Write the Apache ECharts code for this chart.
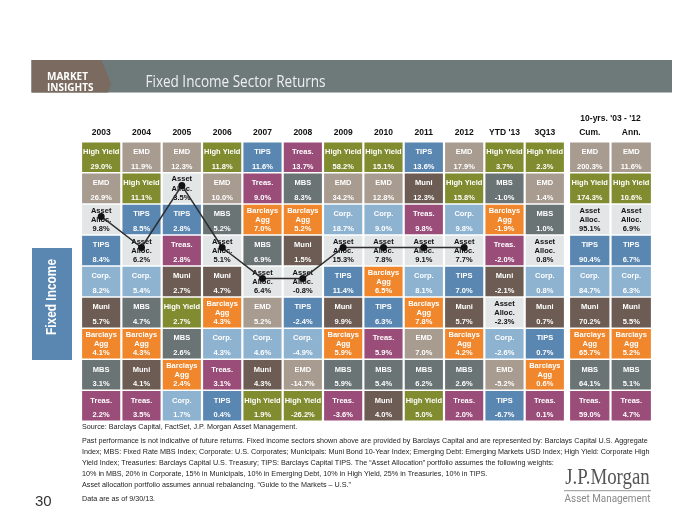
<!DOCTYPE html>
<html><head><meta charset="utf-8">
<script src="https://cdn.jsdelivr.net/npm/echarts@6/dist/echarts.min.js"></script>
<style>html,body{margin:0;padding:0;background:#fff}#c{width:700px;height:525px}</style>
</head><body><div id="c"></div>
<script>
// ---------- DATA ----------
const periods = ['2003','2004','2005','2006','2007','2008','2009','2010','2011','2012',"YTD '13",'3Q13'];
const longPeriods = ['Cum.','Ann.'];
const longPeriodTitle = "10-yrs. '03 - '12";
const ranks = ['1','2','3','4','5','6','7','8','9'];

const sectorOrder = [
  ['High Yield','EMD','Asset Alloc.','TIPS','Corp.','Muni','Barclays Agg','MBS','Treas.'],
  ['EMD','High Yield','TIPS','Asset Alloc.','Corp.','MBS','Barclays Agg','Muni','Treas.'],
  ['EMD','Asset Alloc.','TIPS','Treas.','Muni','High Yield','MBS','Barclays Agg','Corp.'],
  ['High Yield','EMD','MBS','Asset Alloc.','Muni','Barclays Agg','Corp.','Treas.','TIPS'],
  ['TIPS','Treas.','Barclays Agg','MBS','Asset Alloc.','EMD','Corp.','Muni','High Yield'],
  ['Treas.','MBS','Barclays Agg','Muni','Asset Alloc.','TIPS','Corp.','EMD','High Yield'],
  ['High Yield','EMD','Corp.','Asset Alloc.','TIPS','Muni','Barclays Agg','MBS','Treas.'],
  ['High Yield','EMD','Corp.','Asset Alloc.','Barclays Agg','TIPS','Treas.','MBS','Muni'],
  ['TIPS','Muni','Treas.','Asset Alloc.','Corp.','Barclays Agg','EMD','MBS','High Yield'],
  ['EMD','High Yield','Corp.','Asset Alloc.','TIPS','Muni','Barclays Agg','MBS','Treas.'],
  ['High Yield','MBS','Barclays Agg','Treas.','Muni','Asset Alloc.','Corp.','EMD','TIPS'],
  ['High Yield','EMD','MBS','Asset Alloc.','Corp.','Muni','TIPS','Barclays Agg','Treas.'],
  ['EMD','High Yield','Asset Alloc.','TIPS','Corp.','Muni','Barclays Agg','MBS','Treas.'],
  ['EMD','High Yield','Asset Alloc.','TIPS','Corp.','Muni','Barclays Agg','MBS','Treas.']
];
const returnValues = [
  [29.0, 26.9, 9.8, 8.4, 8.2, 5.7, 4.1, 3.1, 2.2],
  [11.9, 11.1, 8.5, 6.2, 5.4, 4.7, 4.3, 4.1, 3.5],
  [12.3, 3.5, 2.8, 2.8, 2.7, 2.7, 2.6, 2.4, 1.7],
  [11.8, 10.0, 5.2, 5.1, 4.7, 4.3, 4.3, 3.1, 0.4],
  [11.6, 9.0, 7.0, 6.9, 6.4, 5.2, 4.6, 4.3, 1.9],
  [13.7, 8.3, 5.2, 1.5, -0.8, -2.4, -4.9, -14.7, -26.2],
  [58.2, 34.2, 18.7, 15.3, 11.4, 9.9, 5.9, 5.9, -3.6],
  [15.1, 12.8, 9.0, 7.8, 6.5, 6.3, 5.9, 5.4, 4.0],
  [13.6, 12.3, 9.8, 9.1, 8.1, 7.8, 7.0, 6.2, 5.0],
  [17.9, 15.8, 9.8, 7.7, 7.0, 5.7, 4.2, 2.6, 2.0],
  [3.7, -1.0, -1.9, -2.0, -2.1, -2.3, -2.6, -5.2, -6.7],
  [2.3, 1.4, 1.0, 0.8, 0.8, 0.7, 0.7, 0.6, 0.1],
  [200.3, 174.3, 95.1, 90.4, 84.7, 70.2, 65.7, 64.1, 59.0],
  [11.6, 10.6, 6.9, 6.7, 6.3, 5.5, 5.2, 5.1, 4.7]
];
const footnotes = [
  'Past performance is not indicative of future returns. Fixed income sectors shown above are provided by Barclays Capital and are represented by: Barclays Capital U.S. Aggregate',
  'Index; MBS: Fixed Rate MBS Index; Corporate: U.S. Corporates; Municipals: Muni Bond 10-Year Index; Emerging Debt: Emerging Markets USD Index; High Yield: Corporate High',
  'Yield Index; Treasuries: Barclays Capital U.S. Treasury; TIPS: Barclays Capital TIPS. The \u201cAsset Allocation\u201d portfolio assumes the following weights:',
  '10% in MBS, 20% in Corporate, 15% in Municipals, 10% in Emerging Debt, 10% in High Yield, 25% in Treasuries, 10% in TIPS.',
  'Asset allocation portfolio assumes annual rebalancing. \u201cGuide to the Markets \u2013 U.S.\u201d'
];

// ---------- STYLE ----------
const sectorStyle = {
  'High Yield':   {fill:'#808c2f', text:'#ffffff', label:['High Yield']},
  'EMD':          {fill:'#a89b90', text:'#ffffff', label:['EMD']},
  'Asset Alloc.': {fill:'#e3e6e7', text:'#111111', label:['Asset','Alloc.']},
  'TIPS':         {fill:'#5a87b2', text:'#ffffff', label:['TIPS']},
  'Corp.':        {fill:'#8db3d1', text:'#ffffff', label:['Corp.']},
  'Muni':         {fill:'#6c5c53', text:'#ffffff', label:['Muni']},
  'Barclays Agg': {fill:'#f0872c', text:'#ffffff', label:['Barclays','Agg']},
  'MBS':          {fill:'#6a7475', text:'#ffffff', label:['MBS']},
  'Treas.':       {fill:'#9b4d7a', text:'#ffffff', label:['Treas.']}
};
const FONT = '"Liberation Sans", Arial, sans-serif';

function buildCells(colStart, colEnd) {
  const data = [], info = [];
  for (let c = colStart; c < colEnd; c++) {
    sectorOrder[c].forEach((s, r) => {
      data.push([c - colStart, r, returnValues[c][r]]);
      info.push(s);
    });
  }
  return {data, info};
}

function makeRenderer(info) {
  return function (params, api) {
    const col = api.value(0), row = api.value(1), v = api.value(2);
    const ctr = api.coord([col, row]);
    const sz = api.size([1, 1]);
    const w = sz[0] - 2.2, h = sz[1] - 1.5;
    const x = ctr[0] - w / 2, y = ctr[1] - h / 2;
    const st = sectorStyle[info[params.dataIndex]];
    const font = 'bold 7.5px ' + FONT;
    const children = [{type:'rect', shape:{x, y, width:w, height:h}, style:{fill:st.fill}}];
    const lines = st.label;
    const ys = lines.length === 1 ? [y + 9.5] : [y + 5.8, y + 15.2];
    lines.forEach((t, i) => children.push({
      type:'text', style:{text:t, x:ctr[0], y:ys[i], align:'center', verticalAlign:'middle', fill:st.text, font}
    }));
    children.push({type:'text', style:{text:v.toFixed(1) + '%', x:ctr[0], y:y + 24.3, align:'center', verticalAlign:'middle', fill:st.text, font}});
    return {type:'group', children};
  };
}

const main = buildCells(0, 12);
const longRun = buildCells(12, 14);
const allocLine = periods.slice(0, 10).map((p, i) => [i, sectorOrder[i].indexOf('Asset Alloc.')]);

const axisLabelStyle = {fontWeight:'bold', fontSize:8.5, color:'#111', fontFamily:FONT, margin:5, interval:0};
const hiddenY = (g) => ({type:'category', gridIndex:g, data:ranks, inverse:true, show:false});

const chart = echarts.init(document.getElementById('c'), null, {renderer:'canvas'});
chart.setOption({
  backgroundColor:'#ffffff',
  animation:false,
  grid:[
    {left:81, top:141.8, width:484, height:279.5},
    {left:569, top:141.8, width:83, height:279.5},
    {left:81, top:138.8, width:484, height:279.5}
  ],
  xAxis:[
    {type:'category', gridIndex:0, data:periods, position:'top', axisLine:{show:false}, axisTick:{show:false}, axisLabel:axisLabelStyle},
    {type:'category', gridIndex:1, data:longPeriods, position:'top', axisLine:{show:false}, axisTick:{show:false}, axisLabel:axisLabelStyle,
      name:longPeriodTitle, nameLocation:'middle', nameGap:13, nameTextStyle:{fontWeight:'bold', fontSize:8.5, color:'#111', fontFamily:FONT}},
    {type:'category', gridIndex:2, data:periods, show:false}
  ],
  yAxis:[hiddenY(0), hiddenY(1), hiddenY(2)],
  series:[
    {type:'custom', xAxisIndex:0, yAxisIndex:0, data:main.data, renderItem:makeRenderer(main.info), silent:true},
    {type:'custom', xAxisIndex:1, yAxisIndex:1, data:longRun.data, renderItem:makeRenderer(longRun.info), silent:true},
    {type:'line', xAxisIndex:2, yAxisIndex:2, data:allocLine, z:10, symbol:'circle', symbolSize:7,
      lineStyle:{color:'#2e2e2e', width:1.5}, itemStyle:{color:'#111'}, silent:true}
  ],
  graphic:[
    {type:'rect', shape:{x:31.5, y:60, width:640.5, height:32.5}, style:{fill:'#6e7979'}, silent:true},
    {type:'polygon', shape:{points:[[31.5,60],[101.5,60],[111,84],[108,92.5],[31.5,92.5]]}, style:{fill:'#7a6a60'}, silent:true},
    {type:'text', x:47, y:77, style:{text:'MARKET', font:'bold 10px "Open Sans", sans-serif', fill:'#ffffff', verticalAlign:'middle'}},
    {type:'text', x:47, y:88.5, style:{text:'INSIGHTS', font:'bold 10px "Open Sans", sans-serif', fill:'#ffffff', verticalAlign:'middle'}},
    {type:'text', x:145.5, y:82, scaleX:0.82, style:{text:'Fixed Income Sector Returns', font:'16.5px "Open Sans", sans-serif', fill:'#eef0f0', verticalAlign:'middle'}},
    {type:'rect', shape:{x:32, y:248, width:40, height:112}, style:{fill:'#5a87b2'}, silent:true},
    {type:'text', x:52, y:297, rotation:Math.PI/2, scaleX:0.85, style:{text:'Fixed Income', font:'bold 14px ' + FONT, fill:'#ffffff', align:'center', verticalAlign:'middle'}},
    {type:'text', x:82, y:427.5, style:{text:'Source: Barclays Capital, FactSet, J.P. Morgan Asset Management.', font:'7.2px ' + FONT, fill:'#222', verticalAlign:'middle'}},
    {type:'text', x:82, y:435.5, style:{text:footnotes.join('\n'), font:'7.2px ' + FONT, lineHeight:11, fill:'#222', verticalAlign:'top'}},
    {type:'text', x:82, y:499, style:{text:'Data are as of 9/30/13.', font:'7.2px ' + FONT, fill:'#222', verticalAlign:'middle'}},
    {type:'text', x:35, y:502, style:{text:'30', font:'15px ' + FONT, fill:'#333', verticalAlign:'middle'}},
    {type:'text', x:607.5, y:478, scaleX:0.82, style:{text:'J.P.Morgan', font:'23px "Liberation Serif", serif', fill:'#555', align:'center', verticalAlign:'middle'}},
    {type:'rect', shape:{x:564, y:490, width:87, height:1.2}, style:{fill:'#aaa'}},
    {type:'text', x:607.5, y:499.5, scaleX:0.86, style:{text:'Asset Management', font:'11.5px "Roboto", sans-serif', fill:'#888', align:'center', verticalAlign:'middle'}}
  ]
});
</script></body></html>
